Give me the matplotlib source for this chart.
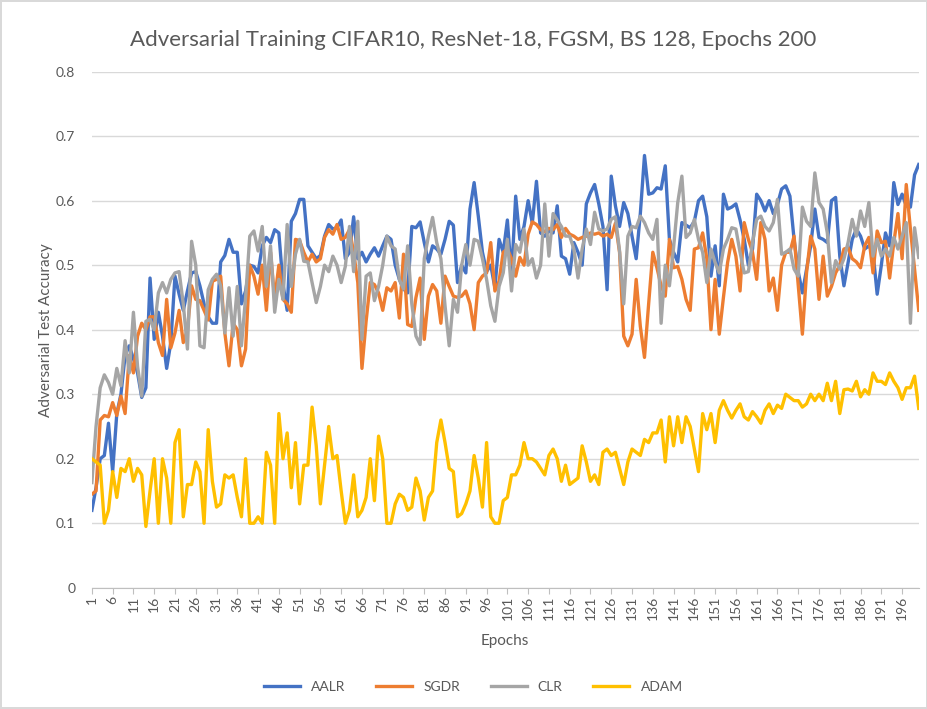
import numpy as np
import matplotlib
matplotlib.use('Agg')
import matplotlib.pyplot as plt

#--------------------------------------------------------------------------------------------------------#
# Data
#--------------------------------------------------------------------------------------------------------#
aalr = [0.12, 0.155, 0.20, 0.205, 0.255, 0.18, 0.27, 0.30, 0.36, 0.375,
        0.355, 0.333, 0.295, 0.31, 0.48, 0.385, 0.427, 0.39, 0.34, 0.38,
        0.483, 0.455, 0.43, 0.46, 0.488, 0.49, 0.468, 0.44, 0.42, 0.41,
        0.41, 0.505, 0.515, 0.54, 0.52, 0.52, 0.44, 0.46, 0.50, 0.498,
        0.488, 0.53, 0.543, 0.535, 0.555, 0.55, 0.47, 0.43, 0.568, 0.58,
        0.602, 0.602, 0.53, 0.52, 0.51, 0.515, 0.545, 0.563, 0.556, 0.558,
        0.57, 0.51, 0.52, 0.575, 0.51, 0.52, 0.505, 0.517, 0.527, 0.514,
        0.53, 0.545, 0.54, 0.50, 0.478, 0.463, 0.457, 0.56, 0.558, 0.567,
        0.535, 0.505, 0.53, 0.525, 0.517, 0.54, 0.568, 0.562, 0.473, 0.50,
        0.488, 0.587, 0.628, 0.576, 0.52, 0.49, 0.50, 0.465, 0.54, 0.52,
        0.57, 0.483, 0.607, 0.54, 0.56, 0.60, 0.565, 0.63, 0.55, 0.545,
        0.553, 0.55, 0.592, 0.514, 0.51, 0.486, 0.535, 0.52, 0.50, 0.595,
        0.612, 0.625, 0.595, 0.56, 0.462, 0.638, 0.592, 0.56, 0.597, 0.58,
        0.545, 0.51, 0.58, 0.67, 0.61, 0.612, 0.62, 0.618, 0.654, 0.54,
        0.52, 0.505, 0.566, 0.562, 0.558, 0.568, 0.60, 0.607, 0.575, 0.483,
        0.53, 0.468, 0.61, 0.587, 0.59, 0.595, 0.57, 0.54, 0.50, 0.525,
        0.61, 0.60, 0.584, 0.60, 0.58, 0.594, 0.618, 0.623, 0.607, 0.54,
        0.49, 0.457, 0.494, 0.53, 0.587, 0.543, 0.54, 0.535, 0.60, 0.605,
        0.514, 0.468, 0.504, 0.54, 0.556, 0.545, 0.525, 0.53, 0.52, 0.455,
        0.50, 0.55, 0.53, 0.628, 0.594, 0.61, 0.592, 0.59, 0.64, 0.656]

sgdr = [0.145, 0.15, 0.26, 0.267, 0.265, 0.287, 0.267, 0.297, 0.27, 0.36,
        0.333, 0.39, 0.41, 0.40, 0.42, 0.42, 0.38, 0.36, 0.447, 0.372,
        0.395, 0.43, 0.38, 0.40, 0.468, 0.447, 0.445, 0.43, 0.415, 0.475,
        0.478, 0.483, 0.395, 0.344, 0.41, 0.40, 0.344, 0.37, 0.50, 0.483,
        0.455, 0.50, 0.43, 0.52, 0.447, 0.50, 0.447, 0.44, 0.427, 0.54,
        0.538, 0.52, 0.505, 0.517, 0.505, 0.51, 0.543, 0.555, 0.548, 0.563,
        0.54, 0.543, 0.555, 0.52, 0.473, 0.34, 0.413, 0.473, 0.47, 0.457,
        0.43, 0.465, 0.46, 0.473, 0.418, 0.517, 0.408, 0.405, 0.45, 0.48,
        0.385, 0.452, 0.47, 0.46, 0.41, 0.483, 0.467, 0.452, 0.45, 0.452,
        0.46, 0.44, 0.40, 0.473, 0.483, 0.488, 0.535, 0.46, 0.475, 0.52,
        0.525, 0.51, 0.483, 0.512, 0.50, 0.548, 0.567, 0.563, 0.555, 0.552,
        0.557, 0.555, 0.563, 0.543, 0.557, 0.548, 0.545, 0.54, 0.543, 0.545,
        0.55, 0.548, 0.55, 0.545, 0.548, 0.543, 0.565, 0.52, 0.39, 0.375,
        0.393, 0.478, 0.405, 0.357, 0.44, 0.52, 0.496, 0.468, 0.452, 0.54,
        0.496, 0.498, 0.478, 0.447, 0.43, 0.525, 0.527, 0.55, 0.51, 0.40,
        0.478, 0.393, 0.45, 0.504, 0.54, 0.514, 0.46, 0.566, 0.54, 0.52,
        0.478, 0.566, 0.54, 0.46, 0.48, 0.43, 0.50, 0.52, 0.52, 0.545,
        0.47, 0.393, 0.488, 0.545, 0.525, 0.447, 0.514, 0.452, 0.467, 0.488,
        0.50, 0.525, 0.527, 0.51, 0.505, 0.496, 0.53, 0.543, 0.488, 0.553,
        0.535, 0.537, 0.48, 0.535, 0.58, 0.51, 0.625, 0.556, 0.494, 0.43]

clr = [0.163, 0.25, 0.31, 0.33, 0.318, 0.30, 0.34, 0.313, 0.383, 0.333,
       0.427, 0.343, 0.297, 0.413, 0.416, 0.40, 0.457, 0.473, 0.457, 0.478,
       0.488, 0.49, 0.44, 0.37, 0.537, 0.50, 0.375, 0.372, 0.462, 0.478,
       0.486, 0.468, 0.395, 0.465, 0.39, 0.467, 0.375, 0.45, 0.545, 0.553,
       0.522, 0.56, 0.467, 0.53, 0.427, 0.478, 0.447, 0.563, 0.467, 0.517,
       0.54, 0.506, 0.505, 0.473, 0.442, 0.467, 0.50, 0.49, 0.514, 0.50,
       0.473, 0.498, 0.56, 0.49, 0.568, 0.385, 0.483, 0.488, 0.445, 0.467,
       0.50, 0.545, 0.53, 0.525, 0.478, 0.463, 0.53, 0.44, 0.39, 0.377,
       0.51, 0.545, 0.574, 0.535, 0.51, 0.437, 0.375, 0.447, 0.427, 0.50,
       0.532, 0.50, 0.54, 0.537, 0.51, 0.478, 0.437, 0.413, 0.467, 0.488,
       0.54, 0.46, 0.532, 0.52, 0.556, 0.50, 0.51, 0.48, 0.50, 0.595,
       0.514, 0.58, 0.57, 0.56, 0.545, 0.545, 0.525, 0.48, 0.525, 0.556,
       0.532, 0.582, 0.556, 0.553, 0.556, 0.571, 0.575, 0.522, 0.44, 0.545,
       0.56, 0.558, 0.576, 0.566, 0.55, 0.54, 0.571, 0.41, 0.50, 0.468,
       0.527, 0.597, 0.638, 0.543, 0.55, 0.571, 0.54, 0.52, 0.473, 0.525,
       0.504, 0.488, 0.525, 0.54, 0.558, 0.556, 0.52, 0.488, 0.49, 0.535,
       0.571, 0.576, 0.56, 0.553, 0.566, 0.602, 0.517, 0.52, 0.525, 0.494,
       0.483, 0.59, 0.568, 0.56, 0.643, 0.597, 0.587, 0.55, 0.473, 0.507,
       0.494, 0.51, 0.535, 0.571, 0.545, 0.584, 0.56, 0.597, 0.514, 0.54,
       0.514, 0.525, 0.514, 0.543, 0.525, 0.545, 0.566, 0.41, 0.558, 0.512]

adam = [0.20, 0.195, 0.19, 0.10, 0.12, 0.18, 0.14, 0.185, 0.18, 0.20,
        0.165, 0.185, 0.175, 0.095, 0.15, 0.20, 0.10, 0.20, 0.17, 0.10,
        0.225, 0.245, 0.11, 0.16, 0.16, 0.195, 0.18, 0.10, 0.245, 0.165,
        0.125, 0.13, 0.175, 0.17, 0.175, 0.14, 0.11, 0.20, 0.10, 0.10,
        0.11, 0.10, 0.21, 0.19, 0.10, 0.27, 0.20, 0.24, 0.155, 0.225,
        0.13, 0.19, 0.19, 0.28, 0.22, 0.13, 0.19, 0.25, 0.20, 0.205,
        0.15, 0.10, 0.12, 0.175, 0.11, 0.12, 0.14, 0.20, 0.135, 0.235,
        0.20, 0.10, 0.10, 0.13, 0.145, 0.14, 0.12, 0.125, 0.17, 0.15,
        0.105, 0.14, 0.15, 0.225, 0.26, 0.225, 0.185, 0.18, 0.11, 0.115,
        0.13, 0.15, 0.205, 0.17, 0.125, 0.225, 0.11, 0.10, 0.10, 0.135,
        0.14, 0.175, 0.175, 0.19, 0.225, 0.20, 0.20, 0.195, 0.185, 0.175,
        0.205, 0.215, 0.20, 0.165, 0.19, 0.16, 0.165, 0.17, 0.22, 0.195,
        0.165, 0.175, 0.16, 0.21, 0.215, 0.205, 0.21, 0.185, 0.16, 0.195,
        0.215, 0.21, 0.205, 0.23, 0.225, 0.24, 0.24, 0.26, 0.195, 0.265,
        0.22, 0.265, 0.225, 0.265, 0.25, 0.215, 0.18, 0.27, 0.245, 0.27,
        0.225, 0.275, 0.29, 0.275, 0.263, 0.275, 0.285, 0.265, 0.26, 0.273,
        0.265, 0.255, 0.275, 0.285, 0.27, 0.283, 0.278, 0.30, 0.295, 0.29,
        0.29, 0.28, 0.285, 0.30, 0.29, 0.30, 0.29, 0.317, 0.29, 0.32,
        0.27, 0.307, 0.308, 0.305, 0.32, 0.296, 0.307, 0.30, 0.333, 0.32,
        0.32, 0.315, 0.333, 0.32, 0.31, 0.292, 0.31, 0.31, 0.328, 0.278]

labels = ['AALR', 'SGDR', 'CLR', 'ADAM']
colors = ['#4472C4', '#ED7D31', '#A5A5A5', '#FFC000']
yticks = [0, 0.1, 0.2, 0.3, 0.4, 0.5, 0.6, 0.7, 0.8]

#--------------------------------------------------------------------------------------------------------#
# Plotting
#--------------------------------------------------------------------------------------------------------#
plt.rcParams['font.family'] = ['Lato', 'DejaVu Sans']
txt = '#595959'

fig = plt.figure(figsize=(9.28, 7.09), dpi=100)
fig.patch.set_edgecolor('#d9d9d9')
fig.patch.set_linewidth(1.5)
ax1 = fig.add_axes([0.099, 0.171, 0.891, 0.728])

for s, lab, c in zip([aalr, sgdr, clr, adam], labels, colors):
    x = np.arange(1, len(s) + 1)
    ax1.plot(x, s, color=c, lw=2.4, label=lab, solid_joinstyle='round')

n = len(aalr)
ax1.set_xlim(1, n)
ax1.set_ylim(0, 0.8)
ax1.set_yticks(yticks)
ax1.set_yticklabels([('%g' % v) for v in yticks], fontsize=10, color=txt)
xt = np.arange(1, n + 1, 5)
ax1.set_xticks(xt)
ax1.set_xticklabels([str(v) for v in xt], rotation=90, fontsize=10, color=txt)
ax1.grid(axis='y', color='#d9d9d9', lw=1)
ax1.set_axisbelow(True)
for sp in ['top', 'right', 'left']:
    ax1.spines[sp].set_visible(False)
ax1.spines['bottom'].set_color('#bfbfbf')
ax1.tick_params(axis='y', length=0, pad=12)
ax1.tick_params(axis='x', length=4, color='#bfbfbf', pad=2)

ax1.set_xlabel('Epochs', fontsize=11, color=txt, labelpad=10)
ax1.set_ylabel('Adversarial Test Accuracy', fontsize=11, color=txt, labelpad=2)
fig.suptitle('Adversarial Training CIFAR10, ResNet-18, FGSM, BS 128, Epochs 200',
             x=0.51, y=0.958, fontsize=16, color=txt)

fig.legend(loc='center', bbox_to_anchor=(0.51, 0.031), ncol=4, frameon=False,
           fontsize=10, handlelength=2.6, columnspacing=2.2, labelcolor=txt)

fig.savefig('out.png', dpi=100)
